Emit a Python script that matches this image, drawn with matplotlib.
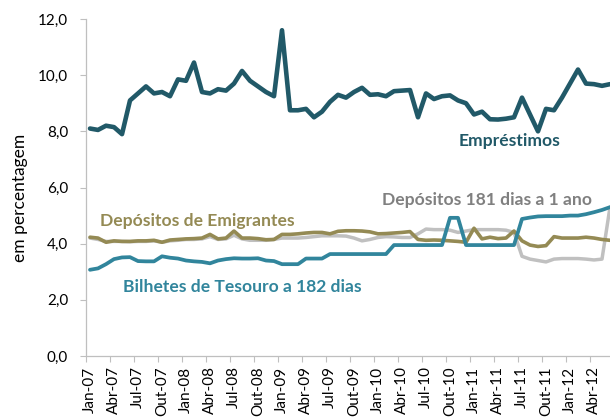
import numpy as np
import matplotlib.pyplot as plt

plt.rcParams['font.family'] = ['Lato', 'DejaVu Sans']

# monthly categories Jan-07 .. Jun-12
meses = ['Jan', 'Fev', 'Mar', 'Abr', 'Mai', 'Jun', 'Jul', 'Ago', 'Set', 'Out', 'Nov', 'Dez']
categorias = [f'{m}-{a:02d}' for a in range(7, 13) for m in meses][:66]

emprestimos = [8.10, 8.05, 8.20, 8.15, 7.90, 9.10, 9.35, 9.60, 9.35, 9.40,
               9.25, 9.85, 9.80, 10.45, 9.40, 9.35, 9.50, 9.45, 9.70, 10.15,
               9.80, 9.60, 9.40, 9.25, 11.60, 8.75, 8.75, 8.80, 8.50, 8.70,
               9.05, 9.30, 9.20, 9.40, 9.55, 9.30, 9.32, 9.25, 9.43, 9.45,
               9.47, 8.50, 9.35, 9.15, 9.25, 9.28, 9.10, 9.00, 8.60, 8.70,
               8.43, 8.42, 8.45, 8.50, 9.20, 8.60, 8.00, 8.80, 8.75, 9.20,
               9.70, 10.20, 9.70, 9.68, 9.62, 9.68]

emigrantes = [4.23, 4.20, 4.05, 4.10, 4.08, 4.08, 4.10, 4.10, 4.12, 4.05,
              4.13, 4.15, 4.17, 4.18, 4.20, 4.33, 4.17, 4.20, 4.45, 4.20,
              4.20, 4.18, 4.14, 4.15, 4.33, 4.33, 4.35, 4.38, 4.40, 4.40,
              4.35, 4.44, 4.46, 4.46, 4.45, 4.42, 4.35, 4.36, 4.38, 4.40,
              4.43, 4.15, 4.12, 4.13, 4.12, 4.10, 4.08, 4.05, 4.55, 4.17,
              4.23, 4.18, 4.20, 4.45, 4.10, 3.95, 3.90, 3.93, 4.25, 4.20,
              4.20, 4.20, 4.23, 4.20, 4.15, 4.12]

depositos_181 = [4.20, 4.15, 4.08, 4.08, 4.08, 4.07, 4.08, 4.08, 4.10, 4.05,
                 4.10, 4.12, 4.15, 4.15, 4.17, 4.25, 4.15, 4.17, 4.30, 4.17,
                 4.12, 4.12, 4.12, 4.15, 4.20, 4.20, 4.20, 4.22, 4.25, 4.28,
                 4.28, 4.28, 4.27, 4.20, 4.10, 4.15, 4.22, 4.25, 4.24, 4.22,
                 4.22, 4.35, 4.52, 4.50, 4.50, 4.48, 4.40, 4.45, 4.50, 4.50,
                 4.50, 4.50, 4.48, 4.40, 3.55, 3.45, 3.40, 3.35, 3.45, 3.47,
                 3.47, 3.47, 3.45, 3.42, 3.45, 5.30]

bilhetes = [3.07, 3.12, 3.27, 3.45, 3.51, 3.52, 3.38, 3.37, 3.37, 3.55,
            3.50, 3.47, 3.40, 3.37, 3.35, 3.30, 3.40, 3.45, 3.48, 3.47,
            3.47, 3.48, 3.40, 3.38, 3.27, 3.27, 3.27, 3.47, 3.47, 3.47,
            3.63, 3.63, 3.63, 3.63, 3.63, 3.63, 3.63, 3.63, 3.95, 3.95,
            3.95, 3.95, 3.95, 3.95, 3.95, 4.92, 4.92, 3.95, 3.95, 3.95,
            3.95, 3.95, 3.95, 3.95, 4.88, 4.93, 4.97, 4.98, 4.98, 4.98,
            5.00, 5.00, 5.05, 5.12, 5.20, 5.30]

yticks = [0, 2, 4, 6, 8, 10, 12]
ytick_labels = ['0,0', '2,0', '4,0', '6,0', '8,0', '10,0', '12,0']

c_emp = '#215968'
c_emig = '#948A54'
c_dep = '#C0C0C0'
c_bil = '#31859C'

x = np.arange(len(categorias))

fig = plt.figure(figsize=(6.1, 4.2), dpi=100)
# the right side of the plot runs slightly past the picture edge
ax = fig.add_axes([86 / 610, 64 / 420, 528 / 610, 337 / 420])

kw = dict(solid_joinstyle='round', solid_capstyle='round')
ax.plot(x, depositos_181, color=c_dep, lw=2.5, **kw)
ax.plot(x, emigrantes, color=c_emig, lw=2.6, **kw)
ax.plot(x, bilhetes, color=c_bil, lw=2.7, **kw)
ax.plot(x, emprestimos, color=c_emp, lw=3.3, **kw)

ax.set_xlim(-0.5, len(categorias) - 0.5)
ax.set_ylim(0, 12)

ax.set_yticks(yticks)
ax.set_yticklabels(ytick_labels)
ax.set_xticks(np.arange(-0.5, len(categorias), 3))
ax.set_xticklabels([])
ax.set_xticks(x[::3], minor=True)
ax.set_xticklabels(categorias[::3], minor=True, rotation=90)

for s in ['top', 'right']:
    ax.spines[s].set_visible(False)
for s in ['left', 'bottom']:
    ax.spines[s].set_color('#BFBFBF')
    ax.spines[s].set_linewidth(0.9)

ax.tick_params(axis='y', length=4.3, color='#BFBFBF', pad=8.5, labelsize=11)
ax.tick_params(axis='x', which='major', length=4.3, color='#BFBFBF')
ax.tick_params(axis='x', which='minor', length=0, pad=7.5, labelsize=11)

ax.set_ylabel('em percentagem', fontsize=12.5)
ax.yaxis.set_label_coords(-0.11, 0.47)

bold = dict(fontsize=12.6, fontweight='bold', ha='left', va='baseline')
ax.text(46.1, 7.47, 'Empréstimos', color=c_emp, **bold)
ax.text(1.3, 4.63, 'Depósitos de Emigrantes', color=c_emig, **bold)
ax.text(36.5, 5.39, 'Depósitos 181 dias a 1 ano', color='#808080', **bold)
ax.text(4.1, 2.28, 'Bilhetes de Tesouro a 182 dias', color=c_bil, **bold)

fig.savefig('out.png', dpi=100)
